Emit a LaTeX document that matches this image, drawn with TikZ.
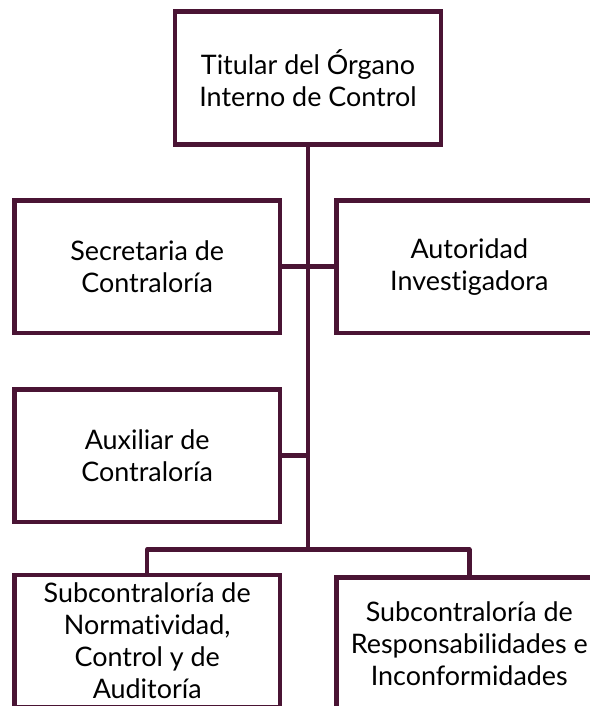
\documentclass[tikz,border=0pt]{standalone}
\usepackage{fontspec}
\setmainfont{Lato}[RawFeature=-liga]
\definecolor{maroon}{RGB}{74,20,52}
\begin{document}
\begin{tikzpicture}[x=1bp,y=-1bp,
  orgbox/.style={draw=maroon,line width=4.5bp,fill=white,minimum width=265.7bp,minimum height=132.5bp,
    inner sep=0pt,outer sep=0pt,align=center,text=black,font=\fontsize{27}{32}\selectfont},
  link/.style={draw=maroon,line width=4.5bp}]
\useasboundingbox (0,0) rectangle (590,706);
\clip (0,0) rectangle (590,706);
\node[orgbox,minimum width=266bp,minimum height=133bp] (top) at (308,78) {Titular del Órgano\\Interno de Control};
\node[orgbox] (sec) at (147.2,266.7) {Secretaria de\\Contraloría};
\node[orgbox] (aut) at (469.3,266.7) {Autoridad\\Investigadora};
\node[orgbox] (aux) at (147.2,455.5) {Auxiliar de\\Contraloría};
\node[orgbox] (snca) at (147.2,641) {Subcontraloría de\\Normatividad,\\Control y de\\Auditoría};
\node[orgbox] (sri) at (469.3,643.5) {Subcontraloría de\\Responsabilidades e\\Inconformidades};
\coordinate (j1) at (308,266.7);
\coordinate (j2) at (308,455.5);
\coordinate (j3) at (308,549.5);
\draw[link] (top.south) -- (j3);
\draw[link] (sec.east) -- (j1) -- (aut.west);
\draw[link] (aux.east) -- (j2);
\draw[link,line join=round] (snca.north) -- (snca.north |- j3) -- (sri.north |- j3) -- (sri.north);
\end{tikzpicture}
\end{document}
